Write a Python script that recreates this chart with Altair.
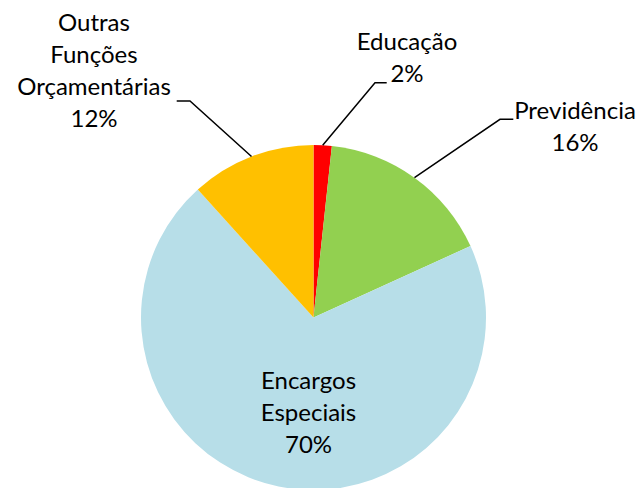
import math
import altair as alt
import pandas as pd

# ---- data ----
categories = ["Educação", "Previdência", "Encargos Especiais", "Outras Funções Orçamentárias"]
values = [1.7, 16.5, 70.1, 11.7]
label_text = ["Educação\n2%", "Previdência\n16%", "Encargos\nEspeciais\n70%",
              "Outras\nFunções\nOrçamentárias\n12%"]
colors = ["#FF0000", "#92D050", "#B7DEE8", "#FFC000"]

# ---- layout ----
W, H = 628, 480
CX, CY, R = 305.5, 309.5, 172.5
# centre of the first text line of each label
label_pos = {
    "Educação": (399, 35),
    "Previdência": (567, 103.5),
    "Encargos Especiais": (300.5, 373.5),
    "Outras Funções Orçamentárias": (86, 16),
}
# leader line: (outer end, elbow) for outside labels
leaders = {
    "Educação": [(378.7, 74.7), (367, 74.7)],
    "Previdência": [(505.3, 111.3), (492, 111.3)],
    "Outras Funções Orçamentárias": [(168.7, 93), (182, 93)],
}

pie_df = pd.DataFrame({"category": categories, "value": values, "idx": range(len(categories))})

total = sum(values)
cum = 0.0
line_rows = []
for cat, v in zip(categories, values):
    mid = 2 * math.pi * (cum + v / 2) / total
    cum += v
    if cat in leaders:
        pts = leaders[cat] + [(CX + R * math.sin(mid), CY - R * math.cos(mid))]
        for i, (px, py) in enumerate(pts):
            line_rows.append({"cat": cat, "ord": i, "px": px, "py": py})
line_df = pd.DataFrame(line_rows)

text_df = pd.DataFrame({
    "cat": categories,
    "label": label_text,
    "lx": [label_pos[c][0] for c in categories],
    "ly": [label_pos[c][1] for c in categories],
})

xs = alt.Scale(domain=[0, W], range=[0, W], nice=False, zero=False)
ys = alt.Scale(domain=[0, H], range=[0, H], nice=False, zero=False)

pie = alt.Chart(pie_df).mark_arc(radius=R).encode(
    theta=alt.Theta("value:Q", stack=True),
    color=alt.Color("category:N", scale=alt.Scale(domain=categories, range=colors), legend=None),
    order=alt.Order("idx:Q"),
    x=alt.value(CX),
    y=alt.value(CY),
)

lines = alt.Chart(line_df).mark_line(color="black", strokeWidth=1.5).encode(
    x=alt.X("px:Q", scale=xs, axis=None),
    y=alt.Y("py:Q", scale=ys, axis=None),
    detail="cat:N",
    order="ord:Q",
)

texts = alt.Chart(text_df).mark_text(
    lineBreak="\n", font="Lato", fontSize=24, lineHeight=32,
    baseline="middle", align="center", color="black",
).encode(
    x=alt.X("lx:Q", scale=xs, axis=None),
    y=alt.Y("ly:Q", scale=ys, axis=None),
    text="label:N",
)

chart = alt.layer(pie, lines, texts).properties(
    width=W, height=H, padding=0,
    autosize=alt.AutoSizeParams(type="none"),
).configure_view(stroke=None)

chart.save("out.html", embed_options={"renderer": "svg", "actions": False})
